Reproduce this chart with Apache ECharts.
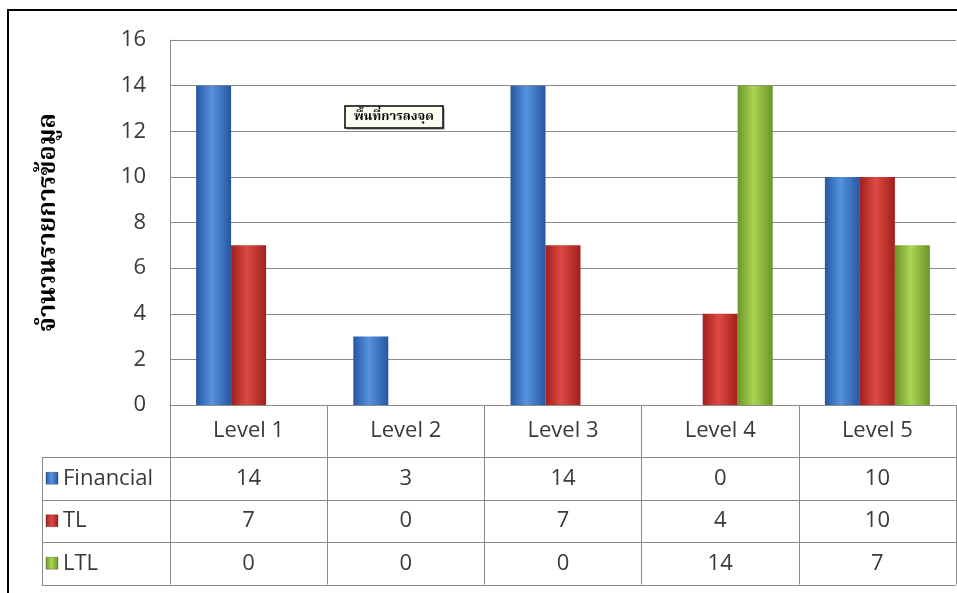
<!DOCTYPE html>
<html>
<head>
<meta charset="utf-8">
<script src="https://cdn.jsdelivr.net/npm/echarts@6/dist/echarts.min.js"></script>
<style>
html,body{margin:0;padding:0;background:#fff;}
#c{width:957px;height:593px;}
</style>
</head>
<body>
<div id="c"></div>
<script>
const categories = ['Level 1', 'Level 2', 'Level 3', 'Level 4', 'Level 5'];
const seriesNames = ['Financial', 'TL', 'LTL'];
const financial = [14, 3, 14, 0, 10];
const tl = [7, 0, 7, 4, 10];
const ltl = [0, 0, 0, 14, 7];
const yMin = 0, yMax = 16, yStep = 2;
const yTitle = 'จำนวนรายการข้อมูล';
const plotNote = 'พื้นที่การลงจุด';

const values = [financial, tl, ltl];
const FONT = '"Open Sans", "Noto Sans", sans-serif';
const FS = 22;
const THAI = '"Noto Serif Thai", "Noto Sans Thai", Tahoma, "DejaVu Sans", sans-serif';
const palette = [
  ['#25579f', '#5592e0'],
  ['#a11f1c', '#dc4a42'],
  ['#6a9626', '#acd454']
];
function grad(i) {
  return new echarts.graphic.LinearGradient(0, 0, 1, 0, [
    {offset: 0, color: palette[i][0]},
    {offset: 0.45, color: palette[i][1]},
    {offset: 1, color: palette[i][0]}
  ]);
}

const HEAD_H = 52, ROW_H = 42.5;
const chart = echarts.init(document.getElementById('c'), null, {renderer: 'canvas'});

const option = {
  animation: false,
  backgroundColor: '#fff',
  grid: {left: 170, right: 1, top: 40, bottom: 188, containLabel: false},
  xAxis: {
    type: 'category',
    data: categories,
    axisLine: {show: true, lineStyle: {color: '#8a8a8a', width: 1}},
    axisTick: {show: true, length: HEAD_H + ROW_H * 3, lineStyle: {color: '#8a8a8a'}},
    axisLabel: {
      interval: 0,
      margin: 0,
      formatter: function (v, idx) {
        let s = '{h|' + v + '}';
        for (let k = 0; k < values.length; k++) s += '\n{v|' + values[k][idx] + '}';
        return s;
      },
      rich: {
        h: {fontFamily: FONT, fontSize: FS, color: '#3a3a3a', lineHeight: HEAD_H, align: 'center'},
        v: {fontFamily: FONT, fontSize: FS, color: '#3a3a3a', lineHeight: ROW_H, align: 'center'}
      }
    }
  },
  yAxis: {
    type: 'value',
    min: yMin, max: yMax, interval: yStep,
    name: yTitle,
    nameLocation: 'middle',
    nameRotate: 90,
    nameGap: 107,
    nameTextStyle: {fontFamily: THAI, fontSize: 25, fontWeight: 'bold', color: '#000'},
    axisLine: {show: true, lineStyle: {color: '#8a8a8a'}},
    axisTick: {show: false},
    axisLabel: {fontFamily: FONT, fontSize: FS, color: '#3a3a3a', margin: 24},
    splitLine: {show: true, lineStyle: {color: '#8a8a8a', width: 1}}
  },
  series: values.map(function (arr, i) {
    return {
      name: seriesNames[i],
      type: 'bar',
      data: arr,
      barWidth: 35,
      barGap: '0%',
      itemStyle: {color: grad(i), borderWidth: 0}
    };
  })
};
chart.setOption(option);

// table lines & row headers, positioned from axis scale
const step = chart.convertToPixel({xAxisIndex: 0}, 1) - chart.convertToPixel({xAxisIndex: 0}, 0);
const xEnd = chart.convertToPixel({xAxisIndex: 0}, categories.length - 1) + step / 2;
const yBase = chart.convertToPixel({yAxisIndex: 0}, 0);
const tableLeft = 42;
const g = [];
for (let r = 0; r <= values.length; r++) {
  const y = Math.round(yBase + HEAD_H + r * ROW_H) + 0.5;
  g.push({type: 'line', shape: {x1: tableLeft, y1: y, x2: xEnd, y2: y}, style: {stroke: '#8a8a8a', lineWidth: 1}, silent: true});
}
g.push({type: 'line', shape: {x1: tableLeft + 0.5, y1: Math.round(yBase + HEAD_H) + 0.5, x2: tableLeft + 0.5, y2: Math.round(yBase + HEAD_H + values.length * ROW_H) + 0.5}, style: {stroke: '#8a8a8a', lineWidth: 1}});
for (let r = 0; r < values.length; r++) {
  const cy = yBase + HEAD_H + r * ROW_H + ROW_H / 2;
  g.push({type: 'rect', shape: {x: 46, y: cy - 6, width: 12, height: 12}, style: {fill: grad(r), stroke: 'rgba(0,0,0,0.25)', lineWidth: 1}});
  g.push({type: 'text', x: 63, y: cy, style: {text: seriesNames[r], fontFamily: FONT, fontSize: FS, fill: '#3a3a3a', verticalAlign: 'middle', align: 'left'}});
}
// frame
g.push({type: 'rect', shape: {x: 8, y: 10, width: 1000, height: 700}, style: {fill: 'none', stroke: '#000', lineWidth: 2}, silent: true});
// plot-area note
g.push({
  type: 'group', x: 345, y: 106,
  children: [
    {type: 'rect', shape: {x: 2, y: 2, width: 98, height: 22}, style: {fill: 'rgba(0,0,0,0.25)'}},
    {type: 'rect', shape: {x: 0, y: 0, width: 98, height: 22}, style: {fill: '#fdfdf2', stroke: '#000', lineWidth: 1.5}},
    {type: 'text', x: 49, y: 12, style: {text: plotNote, fontFamily: THAI, fontSize: 13, fontWeight: 'bold', fill: '#000', align: 'center', verticalAlign: 'middle'}}
  ]
});
chart.setOption({graphic: g});
</script>
</body>
</html>
